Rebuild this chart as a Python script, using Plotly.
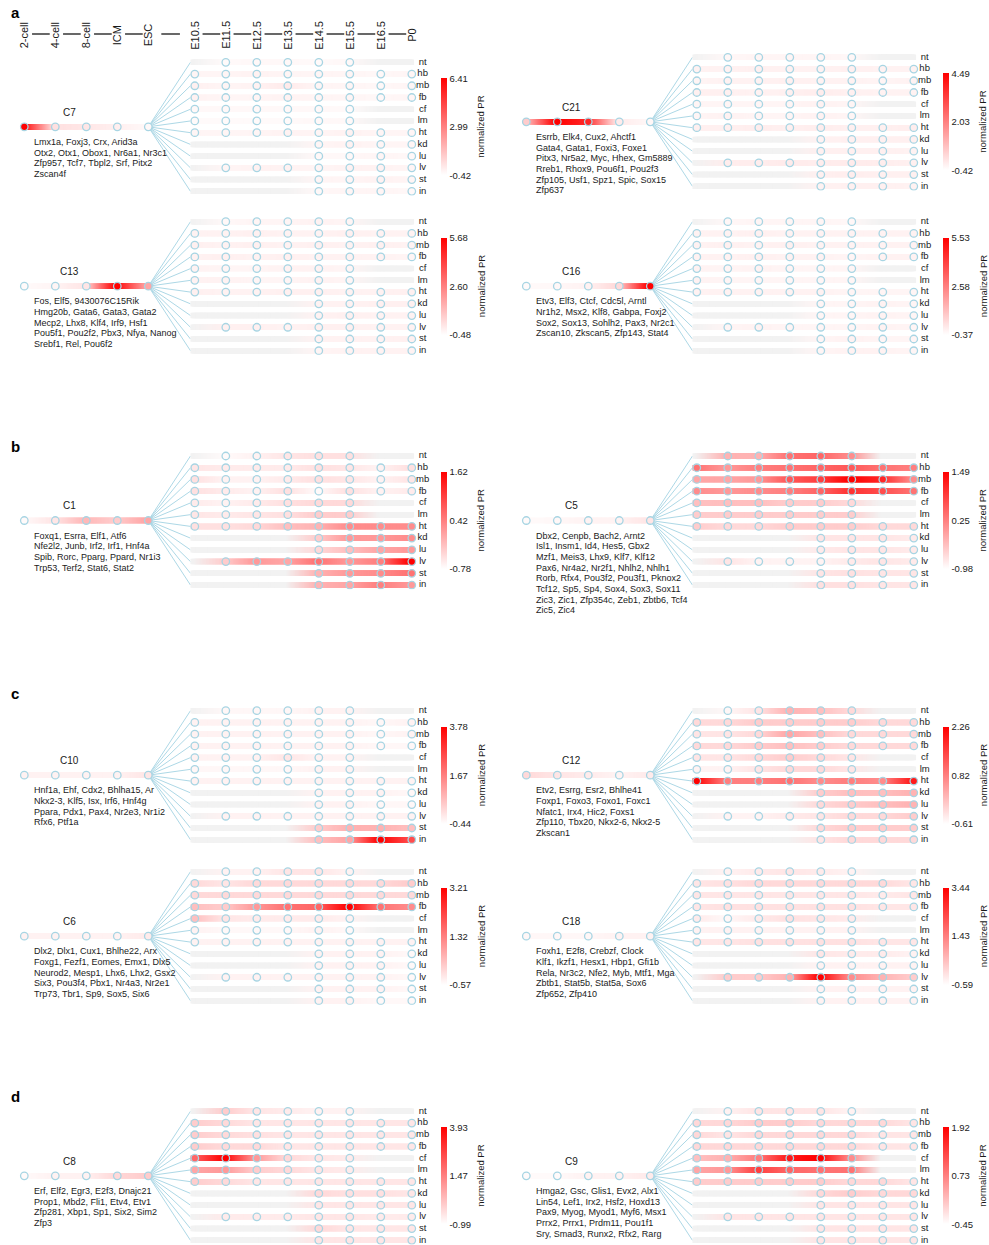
import numpy as np
import plotly.graph_objects as go

# ---------------------------------------------------------------- data
EARLY_STAGES = ["2-cell", "4-cell", "8-cell", "ICM", "ESC"]
TISSUE_STAGES = ["E10.5", "E11.5", "E12.5", "E13.5", "E14.5", "E15.5", "E16.5", "P0"]
TISSUES = ["nt", "hb", "mb", "fb", "cf", "lm", "ht", "kd", "lu", "lv", "st", "in"]
N = None  # tissue not sampled at that stage

# colour-bar ticks (min, mid, max) of normalized PR for every cluster
C7_SCALE = [-0.42, 2.99, 6.41]
C21_SCALE = [-0.42, 2.03, 4.49]
C13_SCALE = [-0.48, 2.60, 5.68]
C16_SCALE = [-0.37, 2.58, 5.53]
C1_SCALE = [-0.78, 0.42, 1.62]
C5_SCALE = [-0.98, 0.25, 1.49]
C10_SCALE = [-0.44, 1.67, 3.78]
C12_SCALE = [-0.61, 0.82, 2.26]
C6_SCALE = [-0.57, 1.32, 3.21]
C18_SCALE = [-0.59, 1.43, 3.44]
C8_SCALE = [-0.99, 1.47, 3.93]
C9_SCALE = [-0.45, 0.73, 1.92]

# early embryo values: 2-cell, 4-cell, 8-cell, ICM, ESC
C7_EARLY = [6.41, 0.40, 0.26, 0.00, -0.22]
C21_EARLY = [0.56, 4.49, 3.75, -0.03, -0.27]
C13_EARLY = [-0.36, -0.23, 0.14, 5.68, 1.68]
C16_EARLY = [-0.25, -0.19, -0.08, 0.52, 5.53]
C1_EARLY = [-0.73, -0.54, -0.11, -0.30, 0.06]
C5_EARLY = [-0.93, -0.91, -0.86, -0.86, -0.73]
C10_EARLY = [-0.23, -0.23, -0.23, -0.23, -0.02]
C12_EARLY = [-0.18, -0.32, -0.38, -0.47, -0.38]
C6_EARLY = [-0.38, -0.38, -0.38, -0.38, -0.27]
C18_EARLY = [-0.47, -0.47, -0.47, -0.39, -0.39]
C8_EARLY = [-0.89, -0.74, -0.74, -0.25, -0.01]
C9_EARLY = [-0.40, -0.40, -0.33, -0.33, -0.26]

# tissue values, rows follow TISSUES, columns follow TISSUE_STAGES
C7_TISSUE = [
    [N, -0.28, -0.22, -0.22, -0.28, -0.22, N, N],
    [-0.15, -0.15, -0.08, -0.15, -0.15, -0.15, -0.22, -0.15],
    [-0.01, -0.15, -0.08, 0.13, -0.15, -0.15, -0.22, -0.15],
    [-0.08, -0.15, -0.15, -0.08, -0.15, -0.15, -0.22, -0.15],
    [-0.22, -0.22, -0.22, -0.22, -0.22, -0.28, N, N],
    [-0.28, -0.28, -0.28, -0.28, -0.22, -0.22, N, N],
    [-0.15, -0.15, -0.15, -0.08, -0.15, -0.08, -0.15, -0.15],
    [N, N, N, N, -0.15, -0.08, -0.15, -0.15],
    [N, N, N, N, -0.22, -0.22, -0.15, -0.22],
    [N, -0.15, -0.08, -0.08, -0.15, -0.08, -0.08, -0.15],
    [N, N, N, N, -0.15, -0.15, -0.08, -0.15],
    [N, N, N, N, -0.22, -0.15, -0.15, -0.22],
]
C21_TISSUE = [
    [N, -0.27, -0.22, -0.22, -0.22, -0.27, N, N],
    [-0.17, -0.17, -0.13, -0.17, -0.17, -0.13, -0.17, -0.17],
    [-0.22, -0.17, -0.17, -0.13, -0.17, -0.17, -0.22, -0.17],
    [-0.13, -0.13, -0.17, -0.13, -0.08, -0.13, -0.17, -0.17],
    [-0.22, -0.22, -0.22, -0.22, -0.17, -0.22, N, N],
    [-0.22, -0.17, -0.22, -0.22, -0.17, -0.22, N, N],
    [-0.13, -0.13, -0.08, -0.13, -0.08, -0.13, -0.13, -0.08],
    [N, N, N, N, -0.17, -0.13, -0.13, -0.13],
    [N, N, N, N, -0.13, -0.13, -0.13, -0.17],
    [N, -0.08, -0.08, -0.03, -0.08, -0.03, -0.08, -0.13],
    [N, N, N, N, -0.13, -0.08, -0.13, -0.13],
    [N, N, N, N, -0.17, -0.13, -0.13, -0.17],
]
C13_TISSUE = [
    [N, -0.30, -0.23, -0.23, -0.17, -0.23, N, N],
    [-0.17, -0.17, -0.11, -0.17, -0.17, -0.11, -0.17, -0.17],
    [-0.11, -0.17, -0.11, -0.17, -0.11, -0.17, -0.11, -0.17],
    [-0.17, -0.11, -0.17, -0.11, -0.17, -0.17, -0.17, -0.23],
    [-0.17, -0.23, -0.23, -0.17, -0.17, -0.23, N, N],
    [-0.17, -0.17, -0.23, -0.23, -0.17, -0.23, N, N],
    [-0.11, -0.17, -0.17, -0.11, -0.11, -0.17, -0.17, -0.11],
    [N, N, N, N, -0.17, -0.17, -0.11, -0.11],
    [N, N, N, N, -0.17, -0.11, -0.17, -0.17],
    [N, -0.11, -0.11, -0.17, -0.11, -0.11, -0.17, -0.17],
    [N, N, N, N, -0.17, -0.17, -0.17, -0.11],
    [N, N, N, N, -0.23, -0.17, -0.17, -0.17],
]
C16_TISSUE = [
    [N, -0.19, -0.13, -0.13, -0.13, -0.19, N, N],
    [-0.08, -0.08, -0.02, -0.08, -0.08, -0.08, -0.08, -0.08],
    [-0.08, -0.02, -0.08, -0.02, -0.08, -0.08, -0.08, -0.08],
    [-0.08, -0.08, -0.02, -0.08, -0.08, -0.13, -0.08, -0.08],
    [-0.08, -0.13, -0.08, -0.13, -0.13, -0.13, N, N],
    [-0.08, -0.13, -0.13, -0.13, -0.13, -0.13, N, N],
    [-0.08, -0.08, -0.08, -0.08, -0.08, -0.13, -0.13, -0.13],
    [N, N, N, N, -0.13, -0.13, -0.08, -0.13],
    [N, N, N, N, -0.13, -0.13, -0.08, -0.13],
    [N, -0.13, -0.08, -0.13, -0.13, -0.13, -0.08, -0.13],
    [N, N, N, N, -0.13, -0.08, -0.13, -0.13],
    [N, N, N, N, -0.13, -0.08, -0.08, -0.13],
]
C1_TISSUE = [
    [N, -0.73, -0.66, -0.54, -0.49, -0.49, N, N],
    [-0.54, -0.59, -0.59, -0.59, -0.49, -0.54, -0.66, -0.49],
    [-0.49, -0.66, -0.66, -0.59, -0.49, -0.54, -0.66, -0.54],
    [-0.49, -0.59, -0.66, -0.49, -0.73, -0.49, -0.66, -0.59],
    [-0.59, -0.66, -0.59, -0.49, -0.42, -0.42, N, N],
    [-0.54, -0.59, -0.54, -0.49, -0.30, -0.30, N, N],
    [-0.49, -0.49, -0.42, -0.18, -0.06, 0.30, 0.30, 0.30],
    [N, N, N, N, -0.30, 0.18, 0.18, 0.30],
    [N, N, N, N, -0.42, -0.18, 0.06, 0.18],
    [N, -0.30, 0.18, 0.06, 0.54, 0.18, 0.42, 1.62],
    [N, N, N, N, -0.06, 0.18, 0.30, 0.54],
    [N, N, N, N, -0.06, 0.06, 0.42, 0.18],
]
C5_TISSUE = [
    [N, -0.24, -0.24, 0.38, 0.50, 0.13, N, N],
    [0.38, 0.01, 0.26, 0.38, 0.50, 0.63, 0.38, 0.26],
    [-0.12, -0.12, 0.01, 0.63, 0.87, 1.49, 1.12, 0.13],
    [0.13, 0.01, 0.13, 0.26, 0.50, 1.00, 0.75, 0.38],
    [-0.36, -0.36, -0.36, -0.49, -0.49, -0.61, N, N],
    [-0.49, -0.49, -0.49, -0.49, -0.49, -0.49, N, N],
    [-0.49, -0.61, -0.61, -0.49, -0.49, -0.49, -0.61, -0.61],
    [N, N, N, N, -0.73, -0.73, -0.73, -0.78],
    [N, N, N, N, -0.78, -0.73, -0.73, -0.78],
    [N, -0.73, -0.86, -0.86, -0.86, -0.78, -0.73, -0.78],
    [N, N, N, N, -0.73, -0.68, -0.73, -0.73],
    [N, N, N, N, -0.68, -0.68, -0.73, -0.73],
]
C10_TISSUE = [
    [N, -0.31, -0.31, -0.31, -0.23, -0.23, N, N],
    [-0.23, -0.23, -0.23, -0.23, -0.23, -0.23, -0.31, -0.23],
    [-0.23, -0.23, -0.23, -0.23, -0.23, -0.23, -0.31, -0.23],
    [-0.23, -0.23, -0.23, -0.23, -0.23, -0.23, -0.31, -0.31],
    [-0.23, -0.23, -0.23, -0.02, -0.23, -0.23, N, N],
    [-0.31, -0.31, -0.31, -0.31, -0.23, -0.23, N, N],
    [-0.23, -0.23, -0.23, -0.23, -0.23, -0.23, -0.23, -0.23],
    [N, N, N, N, -0.23, -0.23, -0.23, -0.31],
    [N, N, N, N, -0.23, -0.23, -0.31, -0.31],
    [N, -0.23, -0.23, -0.23, -0.23, -0.23, -0.23, -0.23],
    [N, N, N, N, 0.40, 0.83, 0.83, 0.62],
    [N, N, N, N, 0.62, 1.04, 3.78, 2.51],
]
C12_TISSUE = [
    [N, -0.52, -0.32, 0.25, 0.11, -0.18, N, N],
    [-0.18, -0.18, -0.04, -0.04, -0.04, -0.04, -0.18, -0.18],
    [-0.32, -0.32, -0.18, 0.39, 0.11, -0.18, -0.18, -0.18],
    [-0.18, -0.18, -0.04, 0.11, -0.04, -0.18, -0.18, -0.18],
    [-0.32, -0.32, -0.18, -0.04, -0.18, -0.32, N, N],
    [-0.47, -0.47, -0.32, -0.18, -0.18, -0.32, N, N],
    [2.26, 0.83, 0.83, 0.97, 0.68, 0.83, 0.68, 1.97],
    [N, N, N, N, -0.04, 0.11, 0.11, 0.25],
    [N, N, N, N, -0.18, -0.04, 0.11, 0.25],
    [N, -0.47, -0.47, -0.38, -0.32, -0.18, -0.18, -0.04],
    [N, N, N, N, -0.18, -0.04, -0.04, -0.04],
    [N, N, N, N, -0.32, -0.18, -0.18, -0.18],
]
C6_TISSUE = [
    [N, -0.38, -0.38, -0.19, -0.19, -0.38, N, N],
    [0.00, -0.19, 0.00, 0.00, 0.00, 0.00, 0.00, 0.19],
    [0.00, 0.00, 0.00, 0.00, 0.00, 0.00, 0.00, 0.00],
    [0.38, 0.19, 0.94, 1.51, 1.70, 3.21, 1.51, 1.13],
    [0.38, -0.19, -0.27, -0.27, -0.27, -0.38, N, N],
    [-0.38, -0.46, -0.46, -0.46, -0.38, -0.46, N, N],
    [-0.38, -0.38, -0.38, -0.38, -0.38, -0.38, -0.38, -0.38],
    [N, N, N, N, -0.38, -0.38, -0.38, -0.46],
    [N, N, N, N, -0.38, -0.38, -0.38, -0.46],
    [N, -0.38, -0.38, -0.38, -0.38, -0.38, -0.38, -0.46],
    [N, N, N, N, -0.38, -0.38, -0.38, -0.46],
    [N, N, N, N, -0.38, -0.38, -0.46, -0.46],
]
C18_TISSUE = [
    [N, -0.39, -0.27, -0.19, -0.27, -0.39, N, N],
    [-0.19, -0.11, 0.01, 0.01, 0.01, 0.01, 0.01, -0.19],
    [-0.19, -0.19, -0.19, -0.19, -0.19, -0.19, -0.27, -0.19],
    [-0.19, -0.11, -0.11, -0.11, -0.11, -0.11, -0.19, -0.19],
    [-0.27, -0.47, -0.27, -0.11, -0.19, -0.27, N, N],
    [-0.39, -0.39, -0.39, -0.39, -0.39, -0.39, N, N],
    [-0.19, -0.19, -0.11, -0.11, -0.11, -0.11, -0.19, -0.19],
    [N, N, N, N, -0.19, -0.27, -0.27, -0.39],
    [N, N, N, N, -0.39, -0.39, -0.39, -0.39],
    [N, 0.22, 0.22, 0.62, 3.44, 1.22, 0.62, 0.22],
    [N, N, N, N, -0.39, -0.39, -0.39, -0.39],
    [N, N, N, N, -0.39, -0.39, -0.39, -0.39],
]
C8_TISSUE = [
    [N, -0.01, -0.50, -0.60, -0.74, -0.74, N, N],
    [-0.01, -0.25, -0.50, -0.50, -0.50, -0.50, -0.50, -0.50],
    [-0.01, -0.25, -0.40, -0.50, -0.50, -0.50, -0.50, -0.50],
    [-0.01, -0.25, -0.25, -0.50, -0.50, -0.50, -0.50, -0.50],
    [1.96, 3.93, 0.98, -0.25, -0.50, -0.60, N, N],
    [0.73, 0.98, -0.01, -0.25, -0.50, -0.60, N, N],
    [-0.01, -0.25, -0.50, -0.50, -0.50, -0.50, -0.50, -0.50],
    [N, N, N, N, -0.25, -0.40, -0.40, -0.50],
    [N, N, N, N, -0.50, -0.50, -0.50, -0.50],
    [N, -0.60, -0.60, -0.60, -0.50, -0.50, -0.60, -0.60],
    [N, N, N, N, -0.25, -0.50, -0.50, -0.50],
    [N, N, N, N, -0.50, -0.50, -0.50, -0.50],
]
C9_TISSUE = [
    [N, -0.33, -0.21, -0.21, -0.21, -0.33, N, N],
    [-0.09, -0.09, 0.02, 0.02, -0.09, -0.09, -0.09, -0.21],
    [-0.09, -0.21, -0.09, -0.09, -0.09, -0.09, -0.21, -0.21],
    [-0.09, -0.09, -0.09, -0.09, -0.09, -0.09, -0.21, -0.21],
    [0.14, 0.26, 0.74, 1.68, 1.92, 0.62, N, N],
    [0.38, 0.50, 1.33, 0.97, 0.85, 0.85, N, N],
    [0.02, 0.02, 0.02, 0.02, 0.02, -0.09, -0.09, -0.21],
    [N, N, N, N, -0.09, 0.02, -0.09, -0.09],
    [N, N, N, N, -0.21, -0.21, -0.21, -0.21],
    [N, -0.21, -0.21, -0.21, -0.21, -0.21, -0.21, -0.21],
    [N, N, N, N, -0.21, -0.21, -0.21, -0.21],
    [N, N, N, N, -0.21, -0.21, -0.21, -0.21],
]

C7_GENES = ["Lmx1a, Foxj3, Crx, Arid3a", "Otx2, Otx1, Obox1, Nr6a1, Nr3c1",
            "Zfp957, Tcf7, Tbpl2, Srf, Pitx2", "Zscan4f"]
C21_GENES = ["Esrrb, Elk4, Cux2, Ahctf1", "Gata4, Gata1, Foxi3, Foxe1",
             "Pitx3, Nr5a2, Myc, Hhex, Gm5889", "Rreb1, Rhox9, Pou6f1, Pou2f3",
             "Zfp105, Usf1, Spz1, Spic, Sox15", "Zfp637"]
C13_GENES = ["Fos, Elf5, 9430076C15Rik", "Hmg20b, Gata6, Gata3, Gata2",
             "Mecp2, Lhx8, Klf4, Irf9, Hsf1", "Pou5f1, Pou2f2, Pbx3, Nfya, Nanog",
             "Srebf1, Rel, Pou6f2"]
C16_GENES = ["Etv3, Elf3, Ctcf, Cdc5l, Arntl", "Nr1h2, Msx2, Klf8, Gabpa, Foxj2",
             "Sox2, Sox13, Sohlh2, Pax3, Nr2c1", "Zscan10, Zkscan5, Zfp143, Stat4"]
C1_GENES = ["Foxq1, Esrra, Elf1, Atf6", "Nfe2l2, Junb, Irf2, Irf1, Hnf4a",
            "Spib, Rorc, Pparg, Ppard, Nr1i3", "Trp53, Terf2, Stat6, Stat2"]
C5_GENES = ["Dbx2, Cenpb, Bach2, Arnt2", "Isl1, Insm1, Id4, Hes5, Gbx2",
            "Mzf1, Meis3, Lhx9, Klf7, Klf12", "Pax6, Nr4a2, Nr2f1, Nhlh2, Nhlh1",
            "Rorb, Rfx4, Pou3f2, Pou3f1, Pknox2", "Tcf12, Sp5, Sp4, Sox4, Sox3, Sox11",
            "Zic3, Zic1, Zfp354c, Zeb1, Zbtb6, Tcf4", "Zic5, Zic4"]
C10_GENES = ["Hnf1a, Ehf, Cdx2, Bhlha15, Ar", "Nkx2-3, Klf5, Isx, Irf6, Hnf4g",
             "Ppara, Pdx1, Pax4, Nr2e3, Nr1i2", "Rfx6, Ptf1a"]
C12_GENES = ["Etv2, Esrrg, Esr2, Bhlhe41", "Foxp1, Foxo3, Foxo1, Foxc1",
             "Nfatc1, Irx4, Hic2, Foxs1", "Zfp110, Tbx20, Nkx2-6, Nkx2-5", "Zkscan1"]
C6_GENES = ["Dlx2, Dlx1, Cux1, Bhlhe22, Arx", "Foxg1, Fezf1, Eomes, Emx1, Dlx5",
            "Neurod2, Mesp1, Lhx6, Lhx2, Gsx2", "Six3, Pou3f4, Pbx1, Nr4a3, Nr2e1",
            "Trp73, Tbr1, Sp9, Sox5, Six6"]
C18_GENES = ["Foxh1, E2f8, Crebzf, Clock", "Klf1, Ikzf1, Hesx1, Hbp1, Gfi1b",
             "Rela, Nr3c2, Nfe2, Myb, Mtf1, Mga", "Zbtb1, Stat5b, Stat5a, Sox6",
             "Zfp652, Zfp410"]
C8_GENES = ["Erf, Elf2, Egr3, E2f3, Dnajc21", "Prop1, Mbd2, Fli1, Etv4, Etv1",
            "Zfp281, Xbp1, Sp1, Six2, Sim2", "Zfp3"]
C9_GENES = ["Hmga2, Gsc, Glis1, Evx2, Alx1", "Lin54, Lef1, Irx2, Hsf2, Hoxd13",
            "Pax9, Myog, Myod1, Myf6, Msx1", "Prrx2, Prrx1, Prdm11, Pou1f1",
            "Sry, Smad3, Runx2, Rfx2, Rarg"]

PANELS = [
    ("C7", C7_SCALE, C7_EARLY, C7_TISSUE, C7_GENES),
    ("C21", C21_SCALE, C21_EARLY, C21_TISSUE, C21_GENES),
    ("C13", C13_SCALE, C13_EARLY, C13_TISSUE, C13_GENES),
    ("C16", C16_SCALE, C16_EARLY, C16_TISSUE, C16_GENES),
    ("C1", C1_SCALE, C1_EARLY, C1_TISSUE, C1_GENES),
    ("C5", C5_SCALE, C5_EARLY, C5_TISSUE, C5_GENES),
    ("C10", C10_SCALE, C10_EARLY, C10_TISSUE, C10_GENES),
    ("C12", C12_SCALE, C12_EARLY, C12_TISSUE, C12_GENES),
    ("C6", C6_SCALE, C6_EARLY, C6_TISSUE, C6_GENES),
    ("C18", C18_SCALE, C18_EARLY, C18_TISSUE, C18_GENES),
    ("C8", C8_SCALE, C8_EARLY, C8_TISSUE, C8_GENES),
    ("C9", C9_SCALE, C9_EARLY, C9_TISSUE, C9_GENES),
]

# ---------------------------------------------------------------- layout
W, H = 989, 1245
FONT = "Liberation Sans, Arial, Helvetica, sans-serif"
INK = "#1a1a1a"
EDGE = "#a8d5e3"
FAN = "#add8e6"
ABSENT = (242, 242, 242)

XS, YS = 31.0, 11.73          # pixels per stage step / per tissue row
X_LO, X_HI = -0.75, 14.9
Y_LO, Y_HI = -1.2, 11.35
EARLY_X = [0, 1, 2, 3, 4]
TISSUE_X = [5.5 + k for k in range(8)]
MID_ROW = 5.5
ROW_START, ROW_END = 5.36, 12.6
STEP = 0.035
BAND = 5.5
LEFT, RIGHT = 24.3, 526.3

SLOTS = {
    "C7": (LEFT, 62.3), "C21": (RIGHT, 57.3),
    "C13": (LEFT, 221.7), "C16": (RIGHT, 221.7),
    "C1": (LEFT, 456.0), "C5": (RIGHT, 456.0),
    "C10": (LEFT, 710.7), "C12": (RIGHT, 710.7),
    "C6": (LEFT, 871.7), "C18": (RIGHT, 871.7),
    "C8": (LEFT, 1111.3), "C9": (RIGHT, 1111.3),
}
SECTIONS = [("a", 12.5), ("b", 446.5), ("c", 693.5), ("d", 1096.5)]


def px(x0, u):
    return (x0 + u * XS) / W


def py(nt, i):
    return 1 - (nt + i * YS) / H


def clamp01(v):
    return min(max(v, 0.0), 1.0)


def shade(v, lo, hi):
    t = clamp01((v - lo) / (hi - lo))
    g = 255 * (1 - t)
    return (255.0, g, g)


def gradient(xq, xs, cols):
    arr = np.array(cols, float)
    chans = [np.interp(xq, xs, arr[:, j]) for j in range(3)]
    return [f"rgb({r:.0f},{g:.0f},{b:.0f})" for r, g, b in zip(*chans)]


fig = go.Figure()
layout = {}
annotations = []
shapes = []

for n, (name, scale, early, tissue, genes) in enumerate(PANELS, start=1):
    x0, nt = SLOTS[name]
    sfx = "" if n == 1 else str(n)
    xa, ya, cax = "x" + sfx, "y" + sfx, "coloraxis" + sfx
    lo, hi = scale[0], scale[-1]

    layout["xaxis" + sfx] = dict(domain=[clamp01(px(x0, X_LO)), clamp01(px(x0, X_HI))],
                                 range=[X_LO, X_HI], visible=False, anchor=ya, fixedrange=True)
    layout["yaxis" + sfx] = dict(domain=[clamp01(py(nt, Y_HI)), clamp01(py(nt, Y_LO))],
                                 range=[Y_HI, Y_LO], visible=False, anchor=xa, fixedrange=True)
    layout[cax] = dict(
        cmin=lo, cmax=hi, colorscale=[[0, "#ffffff"], [1, "#ff0000"]],
        colorbar=dict(
            thickness=6, thicknessmode="pixels", len=97, lenmode="pixels",
            x=px(x0, 13.43), xanchor="left", xpad=0,
            y=py(nt, MID_ROW), yanchor="middle", ypad=0,
            outlinewidth=0, ticks="", tickvals=scale,
            ticktext=[f"{v:.2f}" for v in scale],
            tickfont=dict(family=FONT, size=9.5, color=INK),
        ),
    )

    # fan from ESC to each tissue row
    fx, fy = [], []
    for i in range(len(TISSUES)):
        fx += [EARLY_X[-1], ROW_START, None]
        fy += [MID_ROW, i, None]
    fig.add_trace(go.Scatter(x=fx, y=fy, mode="lines", line=dict(color=FAN, width=1),
                             xaxis=xa, yaxis=ya, hoverinfo="skip", showlegend=False))

    # colour bands, painted as short coloured steps along each track
    bx, by, bc = [], [], []
    xq = np.arange(EARLY_X[0], EARLY_X[-1] + 1e-9, STEP)
    bx += list(xq)
    by += [MID_ROW] * len(xq)
    bc += gradient(xq, EARLY_X, [shade(v, lo, hi) for v in early])
    xq = np.arange(ROW_START + 0.09, ROW_END - 0.09 + 1e-9, STEP)
    for i, row in enumerate(tissue):
        cols = [ABSENT if v is None else shade(v, lo, hi) for v in row]
        bx += list(xq)
        by += [i] * len(xq)
        bc += gradient(xq, TISSUE_X, cols)
    fig.add_trace(go.Scatter(x=bx, y=by, mode="markers",
                             marker=dict(symbol="square", size=BAND, color=bc, line=dict(width=0)),
                             xaxis=xa, yaxis=ya, hoverinfo="skip", showlegend=False))

    # sampled stages
    nx, ny, nv = list(EARLY_X), [MID_ROW] * 5, list(early)
    for i, row in enumerate(tissue):
        for k, v in enumerate(row):
            if v is not None:
                nx.append(TISSUE_X[k])
                ny.append(i)
                nv.append(v)
    fig.add_trace(go.Scatter(x=nx, y=ny, mode="markers",
                             marker=dict(size=7.5, color=nv, coloraxis=cax,
                                         line=dict(color=EDGE, width=1.3)),
                             xaxis=xa, yaxis=ya, hoverinfo="skip", showlegend=False))

    # tissue names
    fig.add_trace(go.Scatter(x=[12.85] * len(TISSUES), y=list(range(len(TISSUES))),
                             mode="text", text=TISSUES, textposition="middle center",
                             textfont=dict(family=FONT, size=9.5, color=INK), cliponaxis=False,
                             xaxis=xa, yaxis=ya, hoverinfo="skip", showlegend=False))

    # cluster name and member genes
    annotations.append(dict(x=px(x0, 1.47), y=py(nt, 4.25), xref="paper", yref="paper",
                            text=name, showarrow=False, xanchor="center", yanchor="middle",
                            font=dict(family=FONT, size=10, color=INK)))
    for k, line in enumerate(genes):
        annotations.append(dict(x=px(x0, 0.24), y=py(nt, 6.78 + 0.912 * k),
                                xref="paper", yref="paper", text=line, showarrow=False,
                                xanchor="left", yanchor="middle",
                                font=dict(family=FONT, size=9, color=INK)))
    annotations.append(dict(x=px(x0, 14.73), y=py(nt, MID_ROW), xref="paper", yref="paper",
                            text="normalized PR", textangle=-90, showarrow=False,
                            xanchor="center", yanchor="middle",
                            font=dict(family=FONT, size=9.5, color=INK)))

# stage header above the first cluster
stage_x = EARLY_X + TISSUE_X
stage_names = EARLY_STAGES + TISSUE_STAGES
head_y = 1 - 35 / H
for u, s in zip(stage_x, stage_names):
    annotations.append(dict(x=px(LEFT, u), y=head_y, xref="paper", yref="paper", text=s,
                            textangle=-90, showarrow=False, xanchor="center", yanchor="middle",
                            font=dict(family=FONT, size=11, color=INK)))
dash_y = 1 - 34 / H
for a, b in zip(stage_x[:-1], stage_x[1:]):
    if b - a > 1:
        a0, b0 = a + 0.42, a + 1.02
    else:
        a0, b0 = a + 0.25, b - 0.18
    shapes.append(dict(type="line", xref="paper", yref="paper",
                       x0=px(LEFT, a0), x1=px(LEFT, b0), y0=dash_y, y1=dash_y,
                       line=dict(color="#4d4d4d", width=1.7)))

for letter, yy in SECTIONS:
    annotations.append(dict(x=15 / W, y=1 - yy / H, xref="paper", yref="paper",
                            text=f"<b>{letter}</b>", showarrow=False,
                            xanchor="center", yanchor="middle",
                            font=dict(family=FONT, size=15, color="#000000")))

fig.update_layout(
    width=W, height=H, margin=dict(l=0, r=0, t=0, b=0),
    paper_bgcolor="#ffffff", plot_bgcolor="rgba(0,0,0,0)",
    showlegend=False, annotations=annotations, shapes=shapes,
    **layout,
)

fig.write_html("out.html")
